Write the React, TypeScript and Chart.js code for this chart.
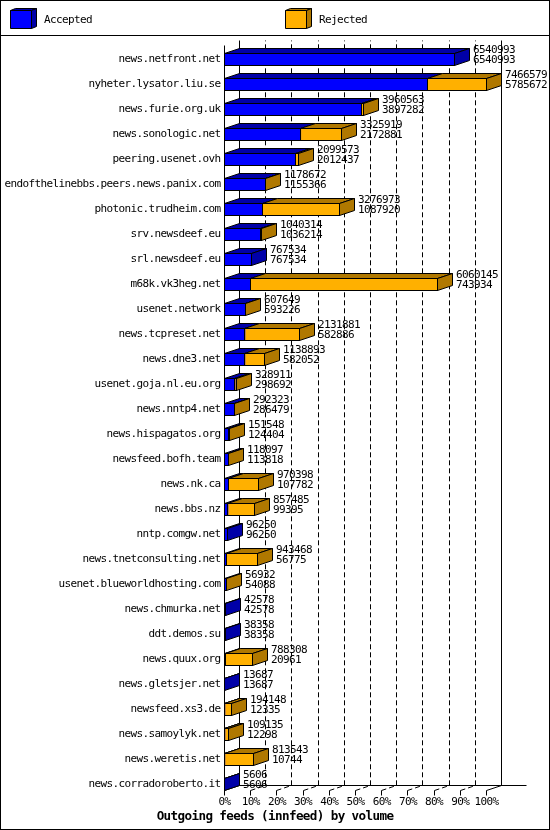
import React, { useEffect, useRef } from 'react';
import { Chart, registerables } from 'chart.js';

Chart.register(...registerables);

const categories = [
  'news.netfront.net',
  'nyheter.lysator.liu.se',
  'news.furie.org.uk',
  'news.sonologic.net',
  'peering.usenet.ovh',
  'endofthelinebbs.peers.news.panix.com',
  'photonic.trudheim.com',
  'srv.newsdeef.eu',
  'srl.newsdeef.eu',
  'm68k.vk3heg.net',
  'usenet.network',
  'news.tcpreset.net',
  'news.dne3.net',
  'usenet.goja.nl.eu.org',
  'news.nntp4.net',
  'news.hispagatos.org',
  'newsfeed.bofh.team',
  'news.nk.ca',
  'news.bbs.nz',
  'nntp.comgw.net',
  'news.tnetconsulting.net',
  'usenet.blueworldhosting.com',
  'news.chmurka.net',
  'ddt.demos.su',
  'news.quux.org',
  'news.gletsjer.net',
  'newsfeed.xs3.de',
  'news.samoylyk.net',
  'news.weretis.net',
  'news.corradoroberto.it',
];

const offered = [
  6540993, 7466579, 3960563, 3325919, 2099573, 1178672, 3276973, 1040314, 767534, 6060145,
  607649, 2131881, 1138893, 328911, 292323, 151548, 118097, 970398, 857485, 96250,
  943468, 56932, 42578, 38358, 788308, 13687, 194148, 109135, 813543, 5606,
];

const accepted = [
  6540993, 5785672, 3897282, 2172881, 2012437, 1155366, 1087920, 1036214, 767534, 743934,
  593226, 582886, 582052, 298692, 286479, 124404, 113818, 107782, 99395, 96250,
  56775, 54088, 42578, 38358, 20961, 13687, 12335, 12298, 10744, 5606,
];

const tickPercents = [0, 10, 20, 30, 40, 50, 60, 70, 80, 90, 100];
const seriesNames = ['Accepted', 'Rejected'];
const titleText = 'Outgoing feeds (innfeed) by volume';

const rejected = offered.map((v, i) => v - accepted[i]);
const maxOffered = Math.max(...offered);

const FRONT = ['#0000FF', '#FFB000'];
const DARK = ['#0000A8', '#B07800'];
const DX = 15;
const DY = 5;
const MONO = '"DejaVu Sans Mono", "Liberation Mono", monospace';
const FSIZE = 11;
const SPACING = '-0.62px';

const snap = (v: number) => Math.round(v - 0.5) + 0.5;

function poly(ctx: CanvasRenderingContext2D, pts: number[][], fill: string) {
  ctx.beginPath();
  ctx.moveTo(pts[0][0], pts[0][1]);
  for (let k = 1; k < pts.length; k++) ctx.lineTo(pts[k][0], pts[k][1]);
  ctx.closePath();
  ctx.fillStyle = fill;
  ctx.fill();
  ctx.strokeStyle = '#000';
  ctx.lineWidth = 1;
  ctx.stroke();
}

const threeDPlugin = {
  id: 'threeD',
  beforeDraw(chart: any) {
    const ctx = chart.ctx;
    (ctx as any).letterSpacing = SPACING;
    ctx.save();
    ctx.fillStyle = '#fff';
    ctx.fillRect(0, 0, chart.width, chart.height);
    ctx.restore();
  },
  beforeDatasetsDraw(chart: any) {
    const ctx: CanvasRenderingContext2D = chart.ctx;
    const xs = chart.scales.x;
    const meta = chart.getDatasetMeta(0);
    const first = meta.data[0].getProps(['y', 'height'], true);
    const last = meta.data[meta.data.length - 1].getProps(['y', 'height'], true);
    const frontTop = snap(first.y - first.height / 2) - 8;
    const backTop = frontTop - DY;
    const floor = snap(last.y + last.height / 2);
    ctx.save();
    ctx.lineWidth = 1;
    ctx.strokeStyle = '#000';
    let x0 = 0;
    let x100 = 0;
    tickPercents.forEach((p) => {
      const fx = snap(xs.getPixelForValue((maxOffered * p) / 100));
      if (p === 0) x0 = fx;
      if (p === 100) x100 = fx;
      const bx = fx + DX;
      const solid = p === 0 || p === 100;
      ctx.setLineDash(solid ? [] : [5, 3]);
      ctx.beginPath();
      ctx.moveTo(fx, floor);
      ctx.lineTo(bx, floor - DY);
      ctx.lineTo(bx, backTop);
      ctx.stroke();
      ctx.setLineDash([]);
      ctx.beginPath();
      ctx.moveTo(fx, floor);
      ctx.lineTo(fx, floor + 5);
      ctx.stroke();
    });
    ctx.setLineDash([]);
    ctx.beginPath();
    ctx.moveTo(x0 + DX, floor - DY);
    ctx.lineTo(x100 + DX + 25, floor - DY);
    ctx.moveTo(x0, frontTop);
    ctx.lineTo(x0, floor);
    ctx.stroke();
    ctx.restore();
  },
  afterDatasetsDraw(chart: any) {
    const ctx: CanvasRenderingContext2D = chart.ctx;
    const mA = chart.getDatasetMeta(0);
    const mR = chart.getDatasetMeta(1);
    ctx.save();
    categories.forEach((_, i) => {
      const a = mA.data[i].getProps(['x', 'y', 'base', 'height'], true);
      const r = mR.data[i].getProps(['x', 'y', 'base', 'height'], true);
      const top = snap(a.y - a.height / 2);
      const bot = snap(a.y + a.height / 2);
      const x0 = snap(a.base);
      const xa = snap(a.x);
      const xt = rejected[i] > 0 ? snap(r.x) : xa;
      poly(ctx, [[x0, top], [xa, top], [xa + DX, top - DY], [x0 + DX, top - DY]], DARK[0]);
      if (rejected[i] > 0) {
        poly(ctx, [[xa, top], [xt, top], [xt + DX, top - DY], [xa + DX, top - DY]], DARK[1]);
      }
      poly(ctx, [[xt, top], [xt + DX, top - DY], [xt + DX, bot - DY], [xt, bot]], DARK[rejected[i] > 0 ? 1 : 0]);
      ctx.strokeStyle = '#000';
      ctx.lineWidth = 1;
      ctx.strokeRect(x0, top, xt - x0, bot - top);
      if (rejected[i] > 0) {
        ctx.beginPath();
        ctx.moveTo(xa, top);
        ctx.lineTo(xa, bot);
        ctx.stroke();
      }
      ctx.fillStyle = '#000';
      ctx.font = `${FSIZE}px ${MONO}`;
      ctx.textAlign = 'left';
      ctx.textBaseline = 'middle';
      const tx = xt + DX + 3.5;
      ctx.fillText(String(offered[i]), tx, a.y - 9.5);
      ctx.fillText(String(accepted[i]), tx, a.y + 1);
    });
    ctx.restore();
  },
  afterDraw(chart: any) {
    const ctx: CanvasRenderingContext2D = chart.ctx;
    const W = chart.width;
    const H = chart.height;
    ctx.save();
    ctx.lineWidth = 1;
    ctx.strokeStyle = '#000';
    const legendX = [10, 285];
    seriesNames.forEach((name, k) => {
      const bx = legendX[k] + 0.5;
      const by = 10.5;
      const w = 21;
      const h = 18;
      poly(ctx, [[bx, by], [bx + w, by], [bx + w + 5, by - 2], [bx + 5, by - 2]], DARK[k]);
      poly(ctx, [[bx + w, by], [bx + w + 5, by - 2], [bx + w + 5, by + h - 2], [bx + w, by + h]], DARK[k]);
      poly(ctx, [[bx, by], [bx + w, by], [bx + w, by + h], [bx, by + h]], FRONT[k]);
      ctx.fillStyle = '#000';
      ctx.font = `${FSIZE}px ${MONO}`;
      ctx.textAlign = 'left';
      ctx.textBaseline = 'middle';
      ctx.fillText(name, legendX[k] + 34, 20);
    });
    ctx.beginPath();
    ctx.moveTo(0, 35.5);
    ctx.lineTo(W, 35.5);
    ctx.stroke();
    ctx.strokeRect(0.5, 0.5, W - 1, H - 1);
    ctx.fillStyle = '#000';
    ctx.font = `bold 12.6px ${MONO}`;
    ctx.textAlign = 'center';
    ctx.textBaseline = 'middle';
    ctx.fillText(titleText, 275, 817);
    ctx.restore();
  },
};

export default function App() {
  const ref = useRef<HTMLCanvasElement | null>(null);
  useEffect(() => {
    if (!ref.current) return;
    const chart = new Chart(ref.current, {
      type: 'bar',
      data: {
        labels: categories,
        datasets: [
          {
            label: seriesNames[0],
            data: accepted,
            backgroundColor: FRONT[0],
            borderWidth: 0,
            barThickness: 12,
          },
          {
            label: seriesNames[1],
            data: rejected,
            backgroundColor: FRONT[1],
            borderWidth: 0,
            barThickness: 12,
          },
        ],
      },
      options: {
        indexAxis: 'y',
        animation: false,
        responsive: false,
        devicePixelRatio: 1,
        events: [],
        layout: { padding: { left: 0, right: 63.5, top: 47, bottom: 0 } },
        plugins: {
          legend: { display: false },
          title: { display: false },
          tooltip: { enabled: false },
        },
        scales: {
          x: {
            stacked: true,
            min: 0,
            max: maxOffered,
            grid: { display: false, drawTicks: false },
            border: { display: false },
            afterBuildTicks: (s: any) => {
              s.ticks = tickPercents.map((p) => ({ value: (maxOffered * p) / 100 }));
            },
            afterFit: (s: any) => {
              s.height = 33;
            },
            ticks: {
              autoSkip: false,
              maxRotation: 0,
              padding: -1,
              color: '#000',
              font: { family: MONO, size: FSIZE },
              callback: (v: any) => Math.round((Number(v) / maxOffered) * 100) + '%',
            },
          },
          y: {
            stacked: true,
            grid: { display: false, drawTicks: false },
            border: { display: false },
            afterFit: (s: any) => {
              s.width = 224.5;
            },
            ticks: {
              autoSkip: false,
              padding: 4,
              color: '#000',
              font: { family: MONO, size: FSIZE },
            },
          },
        },
      },
      plugins: [threeDPlugin],
    } as any);
    return () => chart.destroy();
  }, []);
  return (
    <div style={{ position: 'absolute', left: 0, top: 0, width: 550, height: 830 }}>
      <canvas ref={ref} width={550} height={830} style={{ display: 'block' }} />
    </div>
  );
}
